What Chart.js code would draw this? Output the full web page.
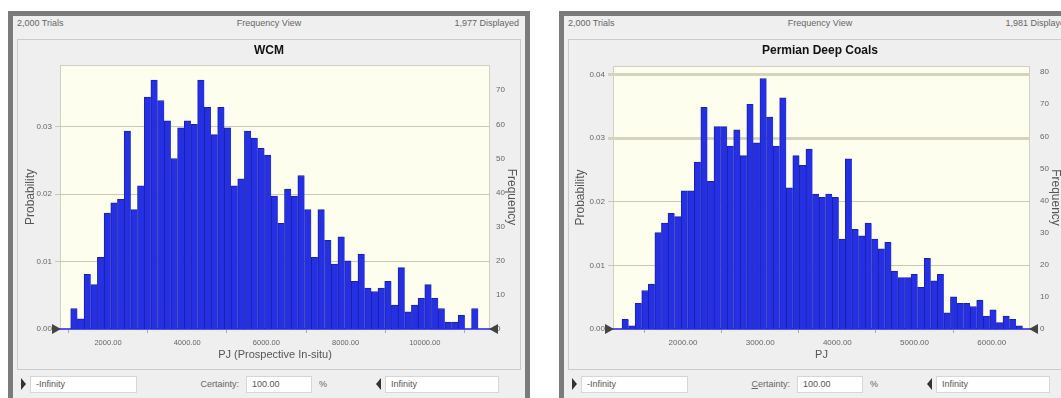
<!DOCTYPE html>
<html>
<head>
<meta charset="utf-8">
<script src="https://cdn.jsdelivr.net/npm/chart.js@4.4.0/dist/chart.umd.min.js"></script>
<style>
  body { margin: 0; width: 1061px; height: 398px; overflow: hidden; position: relative; background: #fff;
         font-family: "Liberation Sans", Arial, sans-serif; }
  .frame { position: absolute; top: 11px; width: 512px; height: 400px; border: 5px solid #7b7b7b; background: #efefef; }
  .hdr { position: absolute; top: 2px; font-size: 9px; line-height: 11px; color: #666; white-space: nowrap; }
  .panel { position: absolute; left: 4px; top: 23px; width: 504px; height: 331px; box-sizing: border-box; border: 1px solid #cbcbcb; }
  .panel canvas { position: absolute; left: -1px; top: -1px; }
  .box { position: absolute; top: 360px; height: 17px; box-sizing: border-box; border: 1px solid #d6d6d6; background: #fff;
         font-size: 9px; line-height: 15px; color: #555; padding-left: 5px; }
  .lbl { position: absolute; top: 361px; font-size: 9px; line-height: 15px; color: #666; }
  .tri-r { position: absolute; top: 362px; width: 0; height: 0; border-top: 6px solid transparent; border-bottom: 6px solid transparent; border-left: 5px solid #333; }
  .tri-l { position: absolute; top: 362px; width: 0; height: 0; border-top: 6px solid transparent; border-bottom: 6px solid transparent; border-right: 5px solid #333; }
</style>
</head>
<body>

<div class="frame" style="left:8px">
  <div class="hdr" style="left:4px">2,000 Trials</div>
  <div class="hdr" style="left:0;width:100%;text-align:center">Frequency View</div>
  <div class="hdr" style="right:6px">1,977 Displayed</div>
  <div class="panel"><canvas id="wcm" width="504" height="331"></canvas></div>
  <div class="tri-r" style="left:8px"></div>
  <div class="box" style="left:17px;width:107px">-Infinity</div>
  <div class="lbl" style="left:180px;width:46px;text-align:right">Certainty:</div>
  <div class="box" style="left:233px;width:66px">100.00</div>
  <div class="lbl" style="left:306px">%</div>
  <div class="tri-l" style="left:363px"></div>
  <div class="box" style="left:372px;width:114px">Infinity</div>
</div>

<div class="frame" style="left:559px">
  <div class="hdr" style="left:4px">2,000 Trials</div>
  <div class="hdr" style="left:0;width:100%;text-align:center">Frequency View</div>
  <div class="hdr" style="right:6px">1,981 Displayed</div>
  <div class="panel"><canvas id="deep" width="504" height="331"></canvas></div>
  <div class="tri-r" style="left:8px"></div>
  <div class="box" style="left:17px;width:107px">-Infinity</div>
  <div class="lbl" style="left:180px;width:46px;text-align:right"><u>C</u>ertainty:</div>
  <div class="box" style="left:233px;width:66px">100.00</div>
  <div class="lbl" style="left:306px">%</div>
  <div class="tri-l" style="left:363px"></div>
  <div class="box" style="left:372px;width:114px">Infinity</div>
</div>

<script>
// WCM histogram (frequency per bin)
const wcmFreq = [6, 3, 16, 13, 21, 34, 37, 38, 58, 35, 42, 68, 73, 67, 61, 50, 59, 61, 60, 73,
                 65, 57, 65, 59, 42, 44, 58, 56, 53, 51, 39, 31, 41, 39, 45, 35, 21, 35, 26, 19,
                 27, 20, 14, 22, 12, 11, 12, 14, 7, 18, 5, 7, 9, 13, 9, 6, 2, 2, 4, 0, 6];
const wcmBinStart = 1058;
const wcmBinWidth = 168.7;
const wcmDisplayed = 1977;
const wcmXTicks = [2000, 4000, 6000, 8000, 10000];
const wcmProbTicks = [0, 0.01, 0.02, 0.03];
const wcmFreqTicks = [0, 10, 20, 30, 40, 50, 60, 70];

// Permian Deep Coals histogram
const deepFreq = [3, 1, 8, 12, 14, 30, 33, 36, 35, 43, 43, 52, 69, 46, 63, 63, 57, 62, 54, 70,
                  58, 78, 66, 57, 72, 44, 54, 51, 56, 42, 41, 42, 41, 28, 53, 31, 29, 33, 28, 25,
                  27, 18, 16, 16, 17, 13, 22, 15, 17, 5, 10, 8, 8, 7, 9, 4, 6, 2, 4, 3, 1];
const deepBinStart = 1210;
const deepBinWidth = 85.1;
const deepDisplayed = 1981;
const deepXTicks = [2000, 3000, 4000, 5000, 6000];
const deepProbTicks = [0, 0.01, 0.02, 0.03, 0.04];
const deepFreqTicks = [0, 10, 20, 30, 40, 50, 60, 70, 80];

Chart.defaults.font.family = '"Liberation Sans", Arial, sans-serif';
Chart.defaults.color = '#555';

// cream plot background, outline and the two certainty grabbers
const plotFrame = {
  id: 'plotFrame',
  beforeDraw(chart) {
    const { ctx, chartArea: a } = chart;
    ctx.save();
    ctx.fillStyle = '#fefeee';
    ctx.fillRect(a.left, a.top, a.width, a.height);
    ctx.strokeStyle = '#cfcfc4';
    ctx.lineWidth = 1;
    ctx.strokeRect(a.left + 0.5, a.top + 0.5, a.width - 1, a.height - 1);
    ctx.restore();
  },
  afterDraw(chart) {
    const { ctx, chartArea: a } = chart;
    ctx.save();
    ctx.fillStyle = '#444';
    ctx.beginPath();
    ctx.moveTo(a.left - 8, a.bottom - 5);
    ctx.lineTo(a.left + 1, a.bottom);
    ctx.lineTo(a.left - 8, a.bottom + 5);
    ctx.fill();
    ctx.beginPath();
    ctx.moveTo(a.right + 8, a.bottom - 5);
    ctx.lineTo(a.right - 1, a.bottom);
    ctx.lineTo(a.right + 8, a.bottom + 5);
    ctx.fill();
    ctx.restore();
  }
};

function histogram(id, o) {
  const fMax = o.fMax;
  new Chart(document.getElementById(id), {
    type: 'bar',
    data: {
      datasets: [{
        data: o.freq.map((f, i) => ({ x: o.binStart + (i + 0.5) * o.binWidth, y: f })),
        yAxisID: 'y1',
        backgroundColor: '#2430e2',
        borderColor: '#1a20a8',
        borderWidth: { left: 1, top: 1, right: 0, bottom: 0 },
        borderSkipped: false,
        barPercentage: 1,
        categoryPercentage: 1
      }]
    },
    options: {
      responsive: false,
      animation: false,
      layout: { padding: 0 },
      plugins: {
        legend: { display: false },
        tooltip: { enabled: false },
        title: {
          display: true, text: o.title, color: '#111',
          font: { size: 12, weight: 'bold' },
          padding: { top: 4, bottom: o.titleGap }
        }
      },
      scales: {
        x: {
          type: 'linear', offset: false, min: o.xMin, max: o.xMax,
          afterBuildTicks: s => { s.ticks = o.xTicks.map(v => ({ value: v })); },
          afterFit: s => { s.height = 41; },
          ticks: { font: { size: o.xFont }, color: '#666', padding: 5, maxRotation: 0,
                   callback: v => v.toFixed(2) },
          grid: { drawOnChartArea: false, drawTicks: true, tickLength: 4, color: '#aaa' },
          border: { color: '#5656ea', width: 2 },
          title: { display: true, text: o.xTitle, color: '#555', font: { size: 11 },
                   padding: { top: 0, bottom: 8.4 } }
        },
        y: {
          position: 'left', min: 0, max: fMax / o.displayed,
          afterBuildTicks: s => { s.ticks = o.probTicks.map(v => ({ value: v })); },
          afterFit: s => { s.width = o.leftW; },
          ticks: { font: { size: 8 }, color: '#666', padding: 3, callback: v => v.toFixed(2) },
          grid: {
            tickLength: 5,
            color: c => (o.thick && c.tick && c.tick.value >= 0.03) ? '#d6d3bf' : '#c9c9b2',
            lineWidth: c => (o.thick && c.tick && c.tick.value >= 0.03) ? 3 : 1
          },
          border: { display: false },
          title: { display: true, text: 'Probability', color: '#555', font: { size: 12 },
                   padding: { top: o.probPad, bottom: 0 } }
        },
        y1: {
          position: 'right', min: 0, max: fMax,
          afterBuildTicks: s => { s.ticks = o.freqTicks.map(v => ({ value: v })); },
          afterFit: s => { s.width = o.rightW; },
          ticks: { font: { size: 8 }, color: '#666', padding: o.freqLabelPad },
          grid: { display: false, drawTicks: false },
          border: { display: false },
          title: { display: true, text: 'Frequency', color: '#555', font: { size: 12 },
                   padding: { top: o.freqPad, bottom: 0 } }
        }
      }
    },
    plugins: [plotFrame]
  });
}

histogram('wcm', {
  title: 'WCM', xTitle: 'PJ (Prospective In-situ)',
  freq: wcmFreq, binStart: wcmBinStart, binWidth: wcmBinWidth, displayed: wcmDisplayed,
  xTicks: wcmXTicks, probTicks: wcmProbTicks, freqTicks: wcmFreqTicks,
  xMin: 788, xMax: 11646, fMax: 77.4, xFont: 7.5,
  titleGap: 7.6, leftW: 43, rightW: 31, probPad: 6, freqPad: 2, freqLabelPad: 6, thick: false
});

histogram('deep', {
  title: 'Permian Deep Coals', xTitle: 'PJ',
  freq: deepFreq, binStart: deepBinStart, binWidth: deepBinWidth, displayed: deepDisplayed,
  xTicks: deepXTicks, probTicks: deepProbTicks, freqTicks: deepFreqTicks,
  xMin: 1093, xMax: 6496, fMax: 81.9, xFont: 8,
  titleGap: 8.6, leftW: 45, rightW: 42, probPad: 5, freqPad: 9, freqLabelPad: 10, thick: true
});
</script>
</body>
</html>
